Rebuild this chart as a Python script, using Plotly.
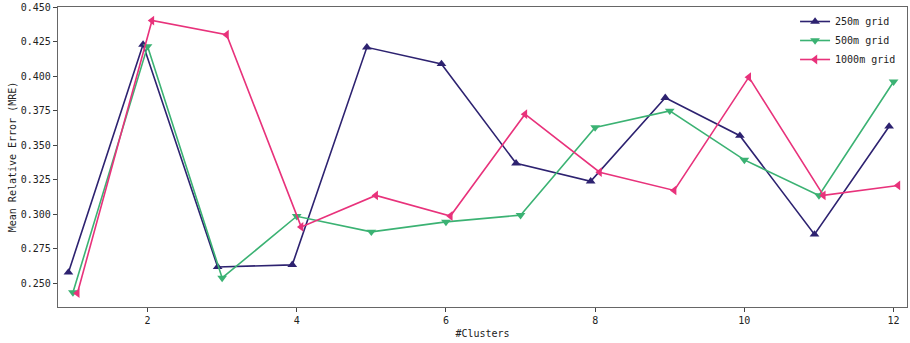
import plotly.graph_objects as go

clusters = [1, 2, 3, 4, 5, 6, 7, 8, 9, 10, 11, 12]

mre_250m = [0.258, 0.423, 0.262, 0.2635, 0.421, 0.409, 0.337, 0.324, 0.3845, 0.357, 0.2855, 0.3637]
mre_500m = [0.2435, 0.4217, 0.254, 0.2987, 0.2874, 0.2946, 0.2995, 0.363, 0.375, 0.3395, 0.3138, 0.3961]
mre_1000m = [0.243, 0.4404, 0.4301, 0.291, 0.3138, 0.2989, 0.3726, 0.3306, 0.3174, 0.3994, 0.3138, 0.321]

series = [
    ("250m grid", mre_250m, "#2d2270", "triangle-up", -0.06),
    ("500m grid", mre_500m, "#3bb273", "triangle-down", 0.0),
    ("1000m grid", mre_1000m, "#e8327b", "triangle-left", 0.06),
]

fig = go.Figure()
for name, vals, color, symbol, shift in series:
    fig.add_trace(go.Scatter(
        x=[c + shift for c in clusters],
        y=vals,
        name=name,
        mode="lines+markers",
        line=dict(color=color, width=1.6),
        marker=dict(symbol=symbol, size=8.5, color=color),
    ))

font = "DejaVu Sans Mono, monospace"
axis_common = dict(
    showgrid=False,
    zeroline=False,
    showline=True,
    linecolor="#666666",
    linewidth=1.2,
    mirror=True,
    ticks="outside",
    ticklen=4,
    tickcolor="#444444",
    tickfont=dict(family=font, size=10, color="#222222"),
    ticklabeloverflow="allow",
)

fig.update_layout(
    width=910,
    height=343,
    margin=dict(l=58, r=2, t=5, b=36),
    paper_bgcolor="white",
    plot_bgcolor="white",
    font=dict(family=font, size=10, color="#222222"),
    xaxis=dict(
        range=[0.8, 12.18],
        tickvals=[2, 4, 6, 8, 10, 12],
        title=dict(text="#Clusters", font=dict(family=font, size=10), standoff=4),
        **axis_common,
    ),
    yaxis=dict(
        range=[0.233, 0.4502],
        tickvals=[0.25, 0.275, 0.3, 0.325, 0.35, 0.375, 0.4, 0.425, 0.45],
        tickformat=".3f",
        title=dict(text="Mean Relative Error (MRE)", font=dict(family=font, size=10), standoff=2),
        **axis_common,
    ),
    legend=dict(
        x=0.993,
        y=1.0,
        xanchor="right",
        yanchor="top",
        bgcolor="rgba(255,255,255,0.8)",
        borderwidth=0,
        font=dict(family=font, size=10, color="#222222"),
        itemwidth=30,
        tracegroupgap=0,
    ),
    showlegend=True,
)

fig.write_html("out.html")
